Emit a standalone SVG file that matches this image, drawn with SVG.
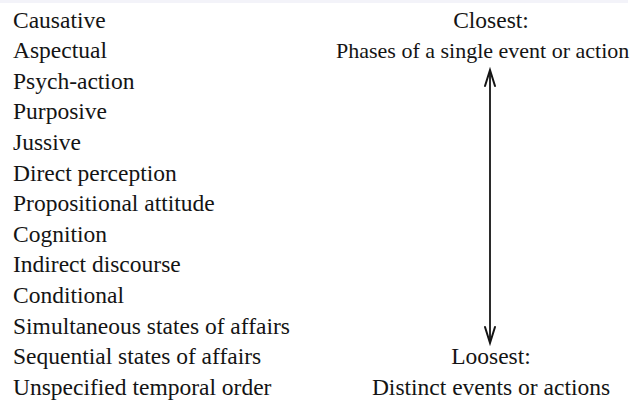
<svg xmlns="http://www.w3.org/2000/svg" width="637" height="401" viewBox="0 0 637 401">
  <style>
    .t { font-family: "Liberation Serif", "Times New Roman", serif; font-size: 23.5px; fill: #141414; }
    .c { text-anchor: middle; }
    .conn { stroke: #141414; stroke-width: 1.8; fill: none; }
    .head { stroke: #141414; stroke-width: 2; fill: none; stroke-linecap: round; stroke-linejoin: miter; }
  </style>
  <rect x="0" y="0" width="637" height="401" fill="#ffffff"/>
  <rect x="0" y="0" width="628" height="3" fill="#f3f3f9"/>

  <!-- clause types, ordered from tightest to loosest linkage -->
  <g id="types">
    <text class="t" x="13" y="27.5">Causative</text>
    <text class="t" x="13" y="58.1">Aspectual</text>
    <text class="t" x="13" y="88.7">Psych-action</text>
    <text class="t" x="13" y="119.3">Purposive</text>
    <text class="t" x="13" y="149.9">Jussive</text>
    <text class="t" x="13" y="180.5">Direct perception</text>
    <text class="t" x="13" y="211.1">Propositional attitude</text>
    <text class="t" x="13" y="241.7">Cognition</text>
    <text class="t" x="13" y="272.3">Indirect discourse</text>
    <text class="t" x="13" y="302.9">Conditional</text>
    <text class="t" x="13" y="333.5">Simultaneous states of affairs</text>
    <text class="t" x="13" y="364.1">Sequential states of affairs</text>
    <text class="t" x="13" y="394.7">Unspecified temporal order</text>
  </g>

  <!-- scale end labels -->
  <g id="closest">
    <text class="t c" x="491" y="27.5">Closest:</text>
    <text class="t" x="336" y="58.1" style="font-size:22px">Phases of a single event or action</text>
  </g>
  <g id="loosest">
    <text class="t c" x="491" y="364.1">Loosest:</text>
    <text class="t c" x="491" y="394.7">Distinct events or actions</text>
  </g>

  <!-- double-headed scale arrow -->
  <g id="connectors">
    <line class="conn" x1="490" y1="71" x2="490" y2="342"/>
    <polyline class="head" points="485,86 490,70 495,86"/>
    <polyline class="head" points="485,327 490,343 495,327"/>
  </g>
</svg>
